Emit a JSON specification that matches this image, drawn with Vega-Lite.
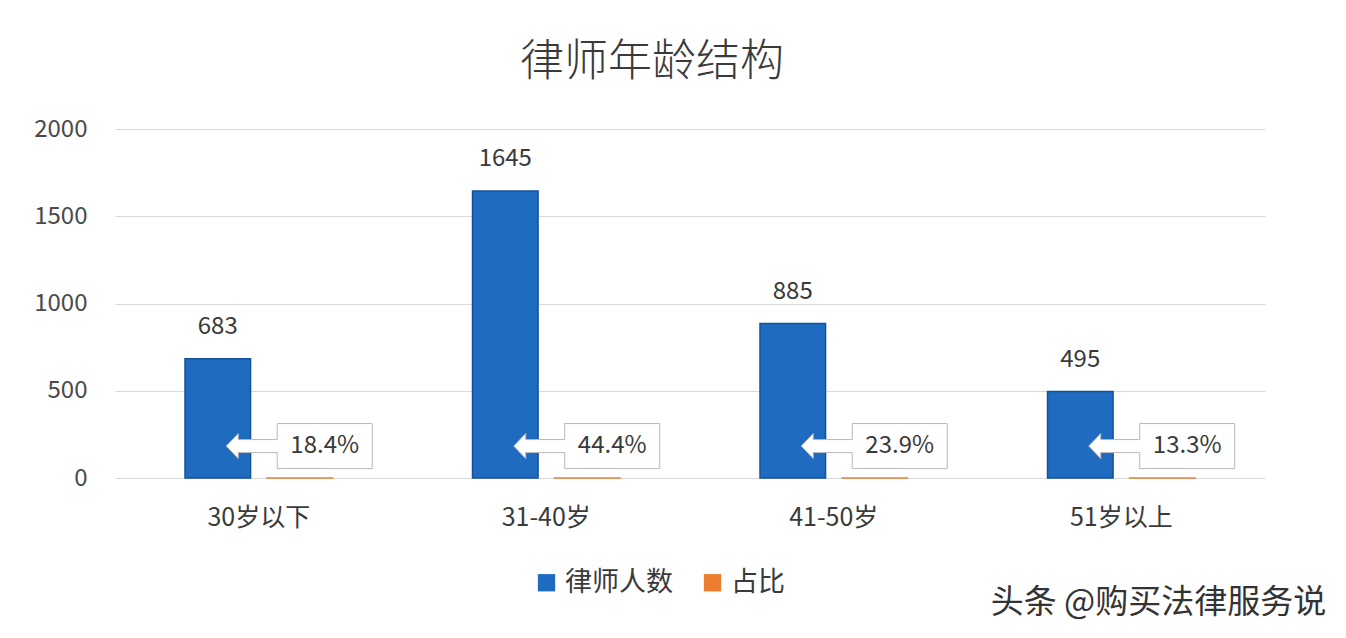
{
  "$schema": "https://vega.github.io/schema/vega-lite/v6.json",
  "width": 1150,
  "height": 349,
  "autosize": "none",
  "padding": {"left": 115, "top": 129, "right": 81, "bottom": 160},
  "background": "#ffffff",
  "title": {
    "text": "律师年龄结构",
    "fontSize": 44,
    "font": "Noto Sans CJK SC",
    "fontWeight": 300,
    "color": "#3a3a3a",
    "anchor": "middle",
    "dx": -38,
    "offset": 32
  },
  "config": {
    "view": {"stroke": null},
    "font": "Noto Sans CJK SC"
  },
  "data": {
    "values": [
      {"age": "30岁以下", "series": "律师人数", "value": 683, "label": "683"},
      {"age": "30岁以下", "series": "占比", "value": 0.184, "label": "18.4%"},
      {"age": "31-40岁", "series": "律师人数", "value": 1645, "label": "1645"},
      {"age": "31-40岁", "series": "占比", "value": 0.444, "label": "44.4%"},
      {"age": "41-50岁", "series": "律师人数", "value": 885, "label": "885"},
      {"age": "41-50岁", "series": "占比", "value": 0.239, "label": "23.9%"},
      {"age": "51岁以上", "series": "律师人数", "value": 495, "label": "495"},
      {"age": "51岁以上", "series": "占比", "value": 0.133, "label": "13.3%"}
    ]
  },
  "encoding": {
    "x": {
      "field": "age",
      "type": "nominal",
      "sort": ["30岁以下", "31-40岁", "41-50岁", "51岁以上"],
      "scale": {"paddingInner": 0.43, "paddingOuter": 0.215},
      "axis": {
        "title": null,
        "labelAngle": 0,
        "labelFontSize": 25,
        "labelColor": "#3a3a3a",
        "labelPadding": 27,
        "ticks": false,
        "domain": false
      }
    },
    "xOffset": {
      "field": "series",
      "type": "nominal",
      "sort": ["律师人数", "占比"],
      "scale": {"paddingInner": 0.2, "paddingOuter": 0.1}
    }
  },
  "layer": [
    {
      "mark": {"type": "bar", "strokeWidth": 1.5},
      "encoding": {
        "y": {
          "field": "value",
          "type": "quantitative",
          "scale": {"domain": [0, 2000]},
          "axis": {
            "title": null,
            "values": [0, 500, 1000, 1500, 2000],
            "format": "d",
            "labelFontSize": 24,
            "labelColor": "#4a4a4a",
            "labelPadding": 28,
            "ticks": false,
            "domain": false,
            "gridColor": "#d9d9d9",
            "gridWidth": 1
          }
        },
        "color": {
          "field": "series",
          "type": "nominal",
          "scale": {"domain": ["律师人数", "占比"], "range": ["#1f6bc0", "#ed7d31"]},
          "legend": {
            "title": null,
            "orient": "none",
            "legendX": 418,
            "legendY": 440,
            "direction": "horizontal",
            "labelFontSize": 27,
            "labelColor": "#3a3a3a",
            "symbolType": "square",
            "symbolSize": 300,
            "symbolStrokeWidth": 0,
            "labelOffset": 5,
            "columnPadding": 26
          }
        },
        "stroke": {
          "field": "series",
          "type": "nominal",
          "scale": {"domain": ["律师人数", "占比"], "range": ["#15519a", "#ed7d31"]},
          "legend": null
        }
      }
    },
    {
      "transform": [{"filter": "datum.series === '律师人数'"}],
      "mark": {"type": "text", "dy": -32, "baseline": "middle", "fontSize": 24, "color": "#3a3a3a"},
      "encoding": {
        "y": {"field": "value", "type": "quantitative", "scale": {"domain": [0, 2000]}},
        "text": {"field": "label"}
      }
    },
    {
      "transform": [{"filter": "datum.series === '占比'"}],
      "mark": {
        "type": "point",
        "shape": "M -0.45 -0.45 L 1.45 -0.45 L 1.45 0.45 L -0.45 0.45 L -0.45 0.13 L -1.23 0.13 L -1.23 0.25 L -1.47 0 L -1.23 -0.25 L -1.23 -0.13 L -0.45 -0.13 Z",
        "size": 10000,
        "filled": true,
        "fill": "#ffffff",
        "stroke": "#b8b8b8",
        "strokeWidth": 1,
        "opacity": 1
      },
      "encoding": {
        "y": {"datum": 183, "type": "quantitative", "scale": {"domain": [0, 2000]}}
      }
    },
    {
      "transform": [{"filter": "datum.series === '占比'"}],
      "mark": {"type": "text", "dx": 25, "baseline": "middle", "fontSize": 24, "color": "#3a3a3a"},
      "encoding": {
        "y": {"datum": 183, "type": "quantitative", "scale": {"domain": [0, 2000]}},
        "text": {"field": "label"}
      }
    },
    {
      "data": {"values": [{"t": "头条 @购买法律服务说"}]},
      "mark": {"type": "text", "align": "right", "baseline": "middle", "dx": 205, "fontSize": 33, "color": "#333333"},
      "encoding": {
        "x": {"datum": "51岁以上"},
        "xOffset": null,
        "y": {"datum": -715, "type": "quantitative", "scale": {"domain": [0, 2000]}},
        "text": {"field": "t"}
      }
    }
  ]
}
